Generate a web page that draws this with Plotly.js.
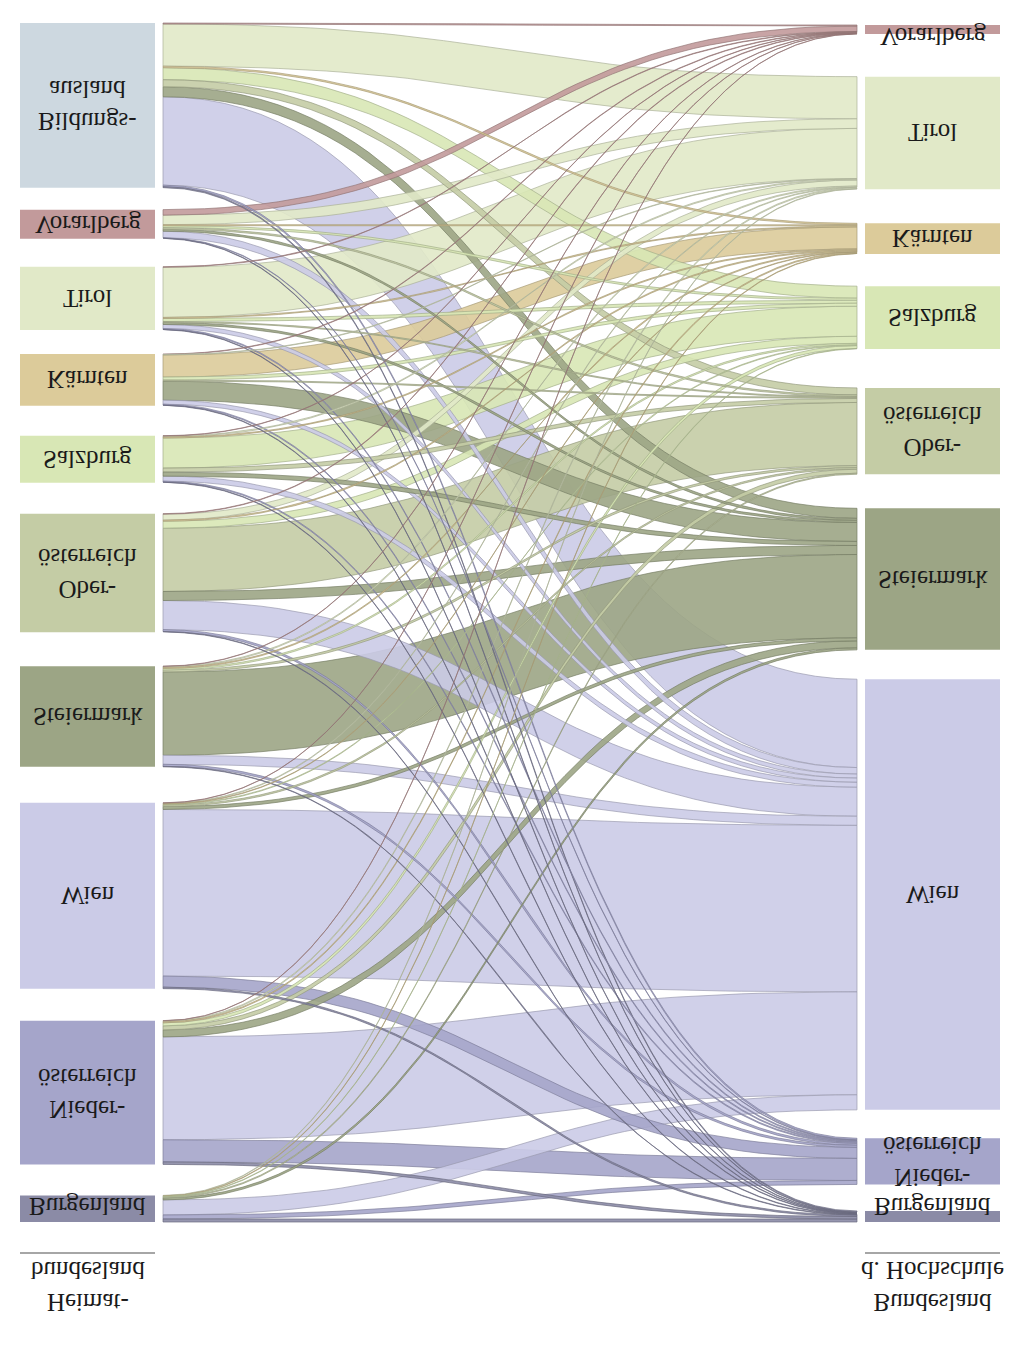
<!DOCTYPE html>
<html>
<head>
<meta charset="utf-8">
<script src="https://cdn.plot.ly/plotly-3.0.1.min.js"></script>
<style>
html,body{margin:0;padding:0;background:#fff;}
#chart{width:1024px;height:1349px;transform:scaleY(-1);}
</style>
</head>
<body>
<div id="chart"></div>
<script>
// ---- data ----
const sourceLabels = ["Bildungs-<br>ausland","Vorarlberg","Tirol","Kärnten","Salzburg","Ober-<br>österreich","Steiermark","Wien","Nieder-<br>österreich","Burgenland"];
const targetLabels = ["Vorarlberg","Tirol","Kärnten","Salzburg","Ober-<br>österreich","Steiermark","Wien","Nieder-<br>österreich","Burgenland"];
const sourceColors = ["#cdd8e0","#c29a9b","#e1e9c8","#dccb9a","#d8e7b5","#c4cca5","#9ca585","#cbcbe7","#a5a5ca","#8b8ba6"];
const targetColors = ["#c29a9b","#e1e9c8","#dccb9a","#d8e7b5","#c4cca5","#9ca585","#cbcbe7","#a5a5ca","#8b8ba6"];
const leftTitle = "Heimat-<br>bundesland";
const rightTitle = "Bundesland<br>d. Hochschule";

// flows: one array per source, values to targets in targetLabels order
const fromBildungsausland   = [1, 42, 1.5, 12, 7, 10, 88, 1.5, 1];
const fromVorarlberg        = [5.5, 9.5, 1, 2, 1.5, 2, 6.5, 0.5, 0.5];
const fromTirol             = [0.5, 50, 1, 3, 1, 2, 4, 1, 0.5];
const fromKaernten          = [0.5, 0.5, 22, 3, 1, 19, 4, 1, 0.5];
const fromSalzburg          = [0.3, 1, 1, 30, 4, 4, 5, 1, 0.5];
const fromOberoesterreich   = [0.5, 6, 1, 7, 63, 9, 29, 2, 0.5];
const fromSteiermark        = [0.3, 1, 1, 1.5, 2, 83, 9, 2, 0.5];
const fromWien              = [0.2, 0.7, 0.5, 0.7, 1.5, 3, 166, 11, 1.5];
const fromNiederoesterreich = [0.2, 1, 1, 3, 4, 7, 102.5, 22, 2.5];
const fromBurgenland        = [0, 0.5, 0.5, 0.5, 1, 2, 15, 4, 3];
const flows = [fromBildungsausland, fromVorarlberg, fromTirol, fromKaernten, fromSalzburg,
               fromOberoesterreich, fromSteiermark, fromWien, fromNiederoesterreich, fromBurgenland];

// ---- layout parameters ----
const W = 1024, H = 1349;
const yTop = 23, yBot = 1222;
const leftX = [20, 155], rightX = [865, 1000];
const linkX0 = 163, linkX1 = 857;
const leftGapWeights  = [22, 28, 24, 30, 31, 34, 36, 32, 31];
const rightGapWeights = [45, 36, 34, 41, 36, 31, 30, 28];
const rightTopOffset = 2;

const nS = sourceLabels.length, nT = targetLabels.length;
const sTot = flows.map(r => r.reduce((a,b)=>a+b,0));
const tTot = targetLabels.map((_,j)=>flows.reduce((a,r)=>a+r[j],0));
const total = sTot.reduce((a,b)=>a+b,0);
const lgSum = leftGapWeights.reduce((a,b)=>a+b,0);
const rgSum = rightGapWeights.reduce((a,b)=>a+b,0);
const k = ((yBot - yTop) - lgSum) / total;
const rgScale = ((yBot - yTop - rightTopOffset) - k*total) / rgSum;

const sY = [], tY = [];
let y = yTop;
for (let i=0;i<nS;i++){ sY.push(y); y += sTot[i]*k + (i<nS-1 ? leftGapWeights[i] : 0); }
y = yTop + rightTopOffset;
for (let j=0;j<nT;j++){ tY.push(y); y += tTot[j]*k + (j<nT-1 ? rightGapWeights[j]*rgScale : 0); }

function rgba(hex, a, f){
  f = f || 1;
  const r = Math.round(parseInt(hex.slice(1,3),16)*f), g = Math.round(parseInt(hex.slice(3,5),16)*f), b = Math.round(parseInt(hex.slice(5,7),16)*f);
  return `rgba(${r},${g},${b},${a})`;
}

// link geometry
const srcPos = flows.map((r,i)=>{ let c=sY[i]; return r.map(v=>{const p=c; c+=v*k; return p;}); });
const tgtPos = flows.map(r=>r.map(()=>0));
for (let j=0;j<nT;j++){ let c=tY[j]; for (let i=0;i<nS;i++){ tgtPos[i][j]=c; c+=flows[i][j]*k; } }
const links = [];
for (let i=0;i<nS;i++) for (let j=0;j<nT;j++){ if (flows[i][j]>0) links.push({i,j,v:flows[i][j]}); }
links.sort((a,b)=>b.v-a.v);

const xm = (linkX0+linkX1)/2;
function bez(y0,y1,t){
  const u=1-t;
  const x = u*u*u*linkX0 + 3*u*u*t*xm + 3*u*t*t*xm + t*t*t*linkX1;
  const yy = (u*u*u + 3*u*u*t)*y0 + (3*u*t*t + t*t*t)*y1;
  return [x,yy];
}
const traces = [];
const N = 48;
links.forEach(L=>{
  const w = L.v*k;
  const ys = srcPos[L.i][L.j], yt = tgtPos[L.i][L.j];
  const xs=[], yy=[];
  for (let n=0;n<=N;n++){ const p=bez(ys,yt,n/N); xs.push(p[0]); yy.push(p[1]); }
  for (let n=N;n>=0;n--){ const p=bez(ys+w,yt+w,n/N); xs.push(p[0]); yy.push(p[1]); }
  xs.push(xs[0]); yy.push(yy[0]);
  const col = targetColors[L.j];
  traces.push({type:'scatter', mode:'lines', x:xs, y:yy, fill:'toself',
    fillcolor: rgba(col, 0.9), line:{width:0.8, color: rgba(col, 0.85, 0.75)},
    hoverinfo:'skip', showlegend:false});
});

// nodes, labels, headers
const shapes = [];
const annotations = [];
const font = {family:'"Liberation Serif", "DejaVu Serif", serif', size:25, color:'#1a1a1a'};
function clampY(v){ return Math.max(37, Math.min(1207, v)); }
for (let i=0;i<nS;i++){
  const y0=sY[i], y1=sY[i]+sTot[i]*k;
  shapes.push({type:'rect', xref:'x', yref:'y', x0:leftX[0], x1:leftX[1], y0, y1, fillcolor:sourceColors[i], line:{width:0}, layer:'above'});
  annotations.push({x:(leftX[0]+leftX[1])/2, y:clampY((y0+y1)/2), xref:'x', yref:'y', text:sourceLabels[i], showarrow:false, font, xanchor:'center', yanchor:'middle'});
}
for (let j=0;j<nT;j++){
  const y0=tY[j], y1=tY[j]+tTot[j]*k;
  shapes.push({type:'rect', xref:'x', yref:'y', x0:rightX[0], x1:rightX[1], y0, y1, fillcolor:targetColors[j], line:{width:0}, layer:'above'});
  annotations.push({x:(rightX[0]+rightX[1])/2, y:clampY((y0+y1)/2), xref:'x', yref:'y', text:targetLabels[j], showarrow:false, font, xanchor:'center', yanchor:'middle'});
}
[[leftX, leftTitle],[rightX, rightTitle]].forEach(([xr, txt])=>{
  shapes.push({type:'line', xref:'x', yref:'y', x0:xr[0], x1:xr[1], y0:1253, y1:1253, line:{color:'#888', width:1.5}});
  annotations.push({x:(xr[0]+xr[1])/2, y:1286, xref:'x', yref:'y', text:txt, showarrow:false, font, xanchor:'center', yanchor:'middle'});
});

const layout = {
  width:W, height:H, margin:{l:0,r:0,t:0,b:0},
  paper_bgcolor:'#fff', plot_bgcolor:'#fff',
  xaxis:{range:[0,W], visible:false, fixedrange:true},
  yaxis:{range:[0,H], visible:false, fixedrange:true},
  shapes, annotations, showlegend:false, hovermode:false
};
Plotly.newPlot('chart', traces, layout, {staticPlot:true});
</script>
</body>
</html>
